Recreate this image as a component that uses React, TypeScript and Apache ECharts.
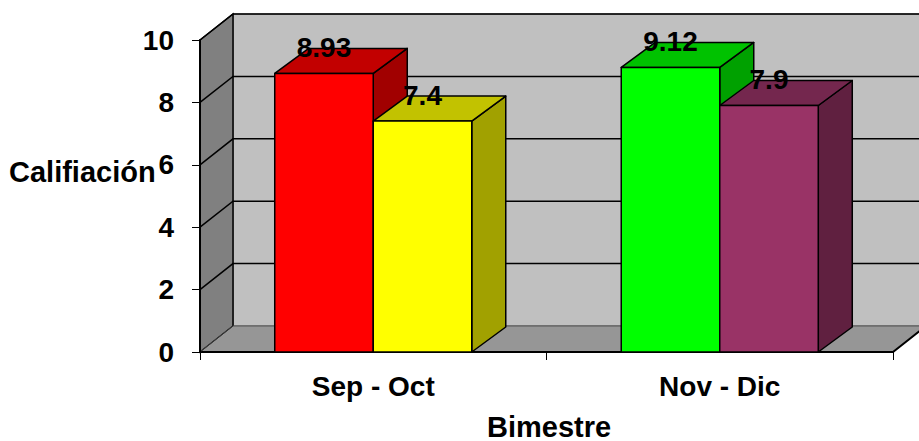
import React, { useEffect, useRef } from "react";
import * as echarts from "echarts";

const categories = ["Sep - Oct", "Nov - Dic"];
const firstValues = [8.93, 9.12];
const secondValues = [7.4, 7.9];
const firstColors = ["#FF0000", "#00FF00"];
const secondColors = ["#FFFF00", "#993366"];
const yTicks = [0, 2, 4, 6, 8, 10];
const axisTitleY = "Califiación";
const axisTitleX = "Bimestre";

const FONT = "'Liberation Sans', Arial, sans-serif";
const WDX = 33;
const WDY = -26;
const BDX = 34;
const BDY = -25;

function shade(hex: string, f: number): string {
  const n = parseInt(hex.slice(1), 16);
  const r = Math.round(((n >> 16) & 255) * f);
  const g = Math.round(((n >> 8) & 255) * f);
  const b = Math.round((n & 255) * f);
  return "rgb(" + r + "," + g + "," + b + ")";
}

function barRenderer(k: number, colors: string[]) {
  return (params: any, api: any) => {
    const cat = api.value(0);
    const val = api.value(1);
    const base = api.coord([cat, 0]);
    const top = api.coord([cat, val]);
    const catW = api.size([1, 0])[0];
    const barW = catW * 0.2843;
    const left = base[0] - barW + k * barW;
    const right = left + barW;
    const ty = top[1];
    const by = base[1];
    const c = colors[params.dataIndex];
    const stroke = { stroke: "#000", lineWidth: 1.5, lineJoin: "round" };
    return {
      type: "group",
      children: [
        {
          type: "polygon",
          shape: { points: [[right, ty], [right + BDX, ty + BDY], [right + BDX, by + BDY], [right, by]] },
          style: { fill: shade(c, 0.63), ...stroke },
        },
        {
          type: "polygon",
          shape: { points: [[left, ty], [left + BDX, ty + BDY], [right + BDX, ty + BDY], [right, ty]] },
          style: { fill: shade(c, 0.76), ...stroke },
        },
        {
          type: "rect",
          shape: { x: left, y: ty, width: barW, height: by - ty },
          style: { fill: c, ...stroke },
        },
        {
          type: "text",
          x: (left + right) / 2,
          y: ty + BDY - 1,
          style: {
            text: String(val),
            fill: "#000",
            font: "bold 28px " + FONT,
            align: "center",
            verticalAlign: "middle",
          },
        },
      ],
    };
  };
}

function wallRenderer(params: any, api: any) {
  const cs = params.coordSys;
  const x0 = cs.x;
  const x1 = cs.x + cs.width;
  const yTop = cs.y;
  const yBot = cs.y + cs.height;
  const bx0 = x0 + WDX;
  const farRight = x1 + WDX + 10;
  const children: any[] = [];
  children.push({
    type: "polygon",
    shape: { points: [[bx0, yTop + WDY], [farRight, yTop + WDY], [farRight, yBot + WDY], [bx0, yBot + WDY]] },
    style: { fill: "#C0C0C0", stroke: "#555", lineWidth: 1 },
  });
  children.push({
    type: "polygon",
    shape: { points: [[x0, yBot], [x0, yTop], [bx0, yTop + WDY], [bx0, yBot + WDY]] },
    style: { fill: "#808080", stroke: "#000", lineWidth: 1.5 },
  });
  children.push({
    type: "polygon",
    shape: { points: [[x0, yBot], [bx0, yBot + WDY], [x1 + WDX, yBot + WDY], [x1, yBot]] },
    style: { fill: "#969696", stroke: "#555", lineWidth: 1 },
  });
  yTicks.forEach((t) => {
    const y = api.coord([0, t])[1];
    if (t > 0) {
      children.push({
        type: "polyline",
        shape: { points: [[x0, y], [bx0, y + WDY], [farRight, y + WDY]] },
        style: { stroke: "#000", lineWidth: 1.5, fill: null },
      });
    }
  });
  children.push({
    type: "polyline",
    shape: { points: [[x0, yBot], [x1, yBot], [x1 + WDX, yBot + WDY]] },
    style: { stroke: "#000", lineWidth: 2, fill: null },
  });
  children.push({
    type: "line",
    shape: { x1: x0, y1: yBot, x2: bx0, y2: yBot + WDY },
    style: { stroke: "#333", lineWidth: 1 },
  });
  children.push({
    type: "line",
    shape: { x1: x0, y1: yTop, x2: x0, y2: yBot },
    style: { stroke: "#000", lineWidth: 2 },
  });
  return { type: "group", children };
}

export default function App() {
  const ref = useRef<HTMLDivElement>(null);
  useEffect(() => {
    if (!ref.current) return;
    const chart = echarts.init(ref.current, undefined, { renderer: "svg" });
    chart.setOption({
      animation: false,
      backgroundColor: "#FFFFFF",
      grid: { left: 200, right: 26, top: 40, bottom: 89 },
      xAxis: {
        type: "category",
        data: categories,
        boundaryGap: true,
        axisLine: { show: true, lineStyle: { color: "#000", width: 2 } },
        axisTick: { show: true, length: 8, lineStyle: { color: "#000", width: 1 } },
        axisLabel: { color: "#000", fontSize: 28, fontWeight: "bold", fontFamily: FONT, margin: 20 },
        splitLine: { show: false },
      },
      yAxis: {
        type: "value",
        min: 0,
        max: 10,
        interval: 2,
        axisLine: { show: true, lineStyle: { color: "#000", width: 2 } },
        axisTick: { show: true, length: 8, lineStyle: { color: "#000", width: 1 } },
        axisLabel: { color: "#000", fontSize: 28, fontWeight: "bold", fontFamily: FONT, margin: 26 },
        splitLine: { show: false },
      },
      graphic: [
        {
          type: "text",
          left: 9,
          top: 157,
          style: { text: axisTitleY, fill: "#000", font: "bold 29px " + FONT },
        },
        {
          type: "text",
          left: 487,
          top: 412,
          style: { text: axisTitleX, fill: "#000", font: "bold 29px " + FONT },
        },
      ],
      series: [
        {
          type: "custom",
          z: 1,
          clip: false,
          silent: true,
          renderItem: wallRenderer,
          data: [[0, 0]],
        },
        {
          type: "custom",
          z: 3,
          clip: false,
          renderItem: barRenderer(0, firstColors),
          data: firstValues.map((v, i) => [i, v]),
        },
        {
          type: "custom",
          z: 4,
          clip: false,
          renderItem: barRenderer(1, secondColors),
          data: secondValues.map((v, i) => [i, v]),
        },
      ],
    });
    return () => chart.dispose();
  }, []);
  return <div ref={ref} style={{ width: 919, height: 441, position: "absolute", left: 0, top: 0 }} />;
}
